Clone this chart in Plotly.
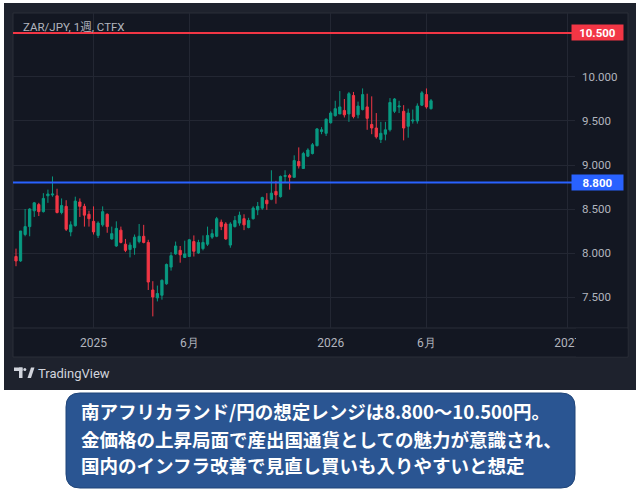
import pandas as pd
import plotly.graph_objects as go

# ---------------- data ----------------
dates = pd.date_range("2024-09-09", periods=92, freq="7D")

open_ = [7.96, 7.91, 8.21, 8.30, 8.48, 8.55, 8.47, 8.65, 8.66, 8.65,
         8.46, 8.53, 8.24, 8.31, 8.58, 8.53, 8.44, 8.36, 8.20, 8.32,
         8.44, 8.16, 8.08, 8.26, 8.10, 8.04, 8.06, 8.13, 8.19, 8.12,
         7.58, 7.49, 7.52, 7.65, 7.84, 7.99, 8.03, 7.95, 7.96, 8.13,
         8.00, 8.05, 8.10, 8.18, 8.19, 8.35, 8.33, 8.09, 8.30, 8.34,
         8.39, 8.29, 8.39, 8.49, 8.51, 8.60, 8.61, 8.70, 8.64, 8.87,
         8.88, 8.86, 9.04, 8.96, 9.10, 9.13, 9.22, 9.38, 9.36, 9.48,
         9.56, 9.58, 9.62, 9.58, 9.79, 9.57, 9.63, 9.66, 9.46, 9.42,
         9.29, 9.35, 9.40, 9.61, 9.66, 9.61, 9.44, 9.50, 9.50, 9.68,
         9.80, 9.64]
high = [8.05, 8.25, 8.50, 8.51, 8.58, 8.57, 8.68, 8.72, 8.87, 8.73,
        8.62, 8.60, 8.36, 8.64, 8.62, 8.56, 8.48, 8.53, 8.36, 8.53,
        8.45, 8.30, 8.36, 8.30, 8.16, 8.12, 8.21, 8.33, 8.32, 8.15,
        7.68, 7.63, 7.70, 7.88, 8.01, 8.13, 8.08, 8.14, 8.16, 8.20,
        8.15, 8.20, 8.30, 8.27, 8.41, 8.38, 8.35, 8.35, 8.42, 8.47,
        8.44, 8.40, 8.53, 8.58, 8.64, 8.68, 8.94, 8.82, 8.88, 8.94,
        8.90, 9.11, 9.20, 9.15, 9.19, 9.25, 9.42, 9.43, 9.53, 9.61,
        9.73, 9.84, 9.75, 9.83, 9.83, 9.72, 9.87, 9.81, 9.78, 9.59,
        9.49, 9.49, 9.76, 9.76, 9.73, 9.68, 9.64, 9.63, 9.70, 9.84,
        9.87, 9.75]
low = [7.85, 7.90, 8.19, 8.19, 8.41, 8.42, 8.46, 8.57, 8.64, 8.45,
       8.44, 8.25, 8.19, 8.30, 8.41, 8.30, 8.30, 8.21, 8.17, 8.30,
       8.23, 8.15, 8.07, 8.11, 8.01, 7.95, 7.98, 8.11, 8.11, 7.58,
       7.28, 7.45, 7.47, 7.64, 7.80, 7.98, 7.89, 7.95, 7.96, 7.96,
       7.99, 8.03, 8.08, 8.16, 8.18, 8.26, 8.15, 8.06, 8.29, 8.31,
       8.26, 8.28, 8.38, 8.43, 8.49, 8.49, 8.60, 8.56, 8.63, 8.80,
       8.72, 8.86, 8.96, 8.96, 9.09, 9.12, 9.21, 9.35, 9.33, 9.47,
       9.55, 9.58, 9.54, 9.49, 9.53, 9.53, 9.62, 9.40, 9.35, 9.30,
       9.25, 9.28, 9.38, 9.59, 9.59, 9.28, 9.31, 9.47, 9.47, 9.67,
       9.64, 9.63]
close = [7.91, 8.25, 8.30, 8.50, 8.57, 8.47, 8.62, 8.67, 8.67, 8.46,
         8.54, 8.27, 8.32, 8.59, 8.53, 8.43, 8.39, 8.24, 8.34, 8.47,
         8.30, 8.22, 8.28, 8.12, 8.03, 8.09, 8.18, 8.19, 8.12, 7.67,
         7.50, 7.54, 7.69, 7.87, 7.97, 8.08, 7.98, 7.99, 8.15, 8.02,
         8.12, 8.12, 8.20, 8.22, 8.39, 8.30, 8.16, 8.33, 8.37, 8.43,
         8.32, 8.37, 8.51, 8.53, 8.63, 8.56, 8.68, 8.66, 8.87, 8.88,
         8.86, 9.05, 8.99, 9.13, 9.17, 9.23, 9.41, 9.40, 9.52, 9.59,
         9.64, 9.66, 9.57, 9.81, 9.55, 9.67, 9.80, 9.53, 9.42, 9.32,
         9.36, 9.40, 9.71, 9.75, 9.67, 9.42, 9.59, 9.51, 9.67, 9.82,
         9.66, 9.73]

range_levels = [10.5, 8.8]
range_labels = ["10.500", "8.800"]
range_colors = ["#f23645", "#2962ff"]

price_ticks = [7.5, 8.0, 8.5, 9.0, 9.5, 10.0]
price_tick_labels = ["7.500", "8.000", "8.500", "9.000", "9.500", "10.000"]
time_tick_dates = ["2025-01-06", "2025-06-02", "2026-01-05", "2026-06-01", "2027-01-04"]
time_tick_labels = ["2025", "6月", "2026", "6月", "2027"]

title_text = "ZAR/JPY, 1週, CTFX"
brand_text = "TradingView"
caption_lines = [
    "南アフリカランド/円の想定レンジは8.800～10.500円。",
    "金価格の上昇局面で産出国通貨としての魅力が意識され、",
    "国内のインフラ改善で見直し買いも入りやすいと想定",
]

# ---------------- layout helpers ----------------
W, H = 640, 491
L, R, T, B = 13, 575, 13, 328


def px(x):
    return (x - L) / (R - L)


def py(y):
    return (B - y) / (B - T)


UP, DOWN = "#089981", "#f23645"
FRAME, PANE, GRID, BORDER = "#1e222d", "#131722", "#232733", "#2a2e39"
TXT = "#b2b5be"

fig = go.Figure()
fig.add_trace(go.Candlestick(
    x=dates, open=open_, high=high, low=low, close=close,
    increasing=dict(line=dict(color=UP, width=1), fillcolor=UP),
    decreasing=dict(line=dict(color=DOWN, width=1), fillcolor=DOWN),
    whiskerwidth=0, hoverinfo="skip", showlegend=False,
))

shapes = []
# outer dark frame
shapes.append(dict(type="rect", xref="paper", yref="paper", x0=px(4), x1=px(636),
                   y0=py(390), y1=py(3), fillcolor=FRAME, line=dict(width=0), layer="below"))
# chart pane
shapes.append(dict(type="rect", xref="paper", yref="paper", x0=px(13), x1=px(628),
                   y0=py(357), y1=py(13), fillcolor=PANE, line=dict(color=BORDER, width=1),
                   layer="below"))
# time axis separator
shapes.append(dict(type="line", xref="paper", yref="paper", x0=px(13), x1=px(628),
                   y0=py(328), y1=py(328), line=dict(color=BORDER, width=1), layer="below"))
# clip of last time label
shapes.append(dict(type="rect", xref="paper", yref="paper", x0=px(576), x1=px(627.5),
                   y0=py(356.5), y1=py(328.5), fillcolor=PANE, line=dict(width=0), layer="above"))
# range lines
for lv, col in zip(range_levels, range_colors):
    shapes.append(dict(type="line", xref="paper", yref="y", x0=0, x1=1, y0=lv, y1=lv,
                       line=dict(color=col, width=2), layer="above"))

# TradingView logo (approximation)
LOGO = "#d1d4dc"
shapes.append(dict(type="rect", xref="paper", yref="paper", x0=px(14), x1=px(22.5),
                   y0=py(371), y1=py(367.5), fillcolor=LOGO, line=dict(width=0)))
shapes.append(dict(type="rect", xref="paper", yref="paper", x0=px(19), x1=px(22.5),
                   y0=py(378), y1=py(367.5), fillcolor=LOGO, line=dict(width=0)))
shapes.append(dict(type="circle", xref="paper", yref="paper", x0=px(23.3), x1=px(26.3),
                   y0=py(371), y1=py(368), fillcolor=LOGO, line=dict(width=0)))
shapes.append(dict(type="path", xref="paper", yref="paper",
                   path=f"M{px(27.5)},{py(378)} L{px(31)},{py(367.5)} L{px(34.5)},{py(367.5)} "
                        f"L{px(31)},{py(378)} Z",
                   fillcolor=LOGO, line=dict(width=0)))

# caption rounded box
bx0, bx1, by0, by1, rr = 66, 575, 393, 488, 14
path = (f"M{px(bx0+rr)},{py(by0)} L{px(bx1-rr)},{py(by0)} Q{px(bx1)},{py(by0)} {px(bx1)},{py(by0+rr)} "
        f"L{px(bx1)},{py(by1-rr)} Q{px(bx1)},{py(by1)} {px(bx1-rr)},{py(by1)} "
        f"L{px(bx0+rr)},{py(by1)} Q{px(bx0)},{py(by1)} {px(bx0)},{py(by1-rr)} "
        f"L{px(bx0)},{py(by0+rr)} Q{px(bx0)},{py(by0)} {px(bx0+rr)},{py(by0)} Z")
shapes.append(dict(type="path", xref="paper", yref="paper", path=path,
                   fillcolor="#2a5592", line=dict(color="#1f4478", width=1)))

annotations = []
annotations.append(dict(text=title_text, xref="paper", yref="paper", x=px(21), y=py(27),
                        xanchor="left", yanchor="middle", showarrow=False,
                        font=dict(family="Roboto, Noto Sans CJK JP", size=11.5, color=TXT)))
for lv, lab, col in zip(range_levels, range_labels, range_colors):
    annotations.append(dict(text=f"<b>{lab}</b>", xref="paper", yref="y", x=px(571), y=lv,
                            xanchor="left", yanchor="middle", showarrow=False,
                            bgcolor=col, borderpad=2, width=47, height=11, align="center",
                            font=dict(family="Roboto", size=11.5, color="#ffffff")))
annotations.append(dict(text=brand_text, xref="paper", yref="paper", x=px(36), y=py(373.5),
                        xanchor="left", yanchor="middle", showarrow=False,
                        font=dict(family="Roboto", size=13, color=LOGO)))
for i, (line, yc) in enumerate(zip(caption_lines, [411, 439, 465])):
    annotations.append(dict(text=f"<b>{line}</b>", xref="paper", yref="paper", x=px(79), y=py(yc),
                            xanchor="left", yanchor="middle", showarrow=False,
                            font=dict(family="Noto Sans CJK JP", size=18.5, color="#ffffff")))

fig.update_layout(
    width=W, height=H,
    margin=dict(l=L, r=W - R, t=T, b=H - B, pad=0),
    paper_bgcolor="#ffffff", plot_bgcolor="rgba(0,0,0,0)",
    shapes=shapes, annotations=annotations, showlegend=False, hovermode=False,
    xaxis=dict(type="date", range=["2024-09-04 09:36", "2027-01-15"],
               tickvals=time_tick_dates, ticktext=time_tick_labels,
               showgrid=True, gridcolor=GRID, gridwidth=1, zeroline=False,
               showline=False, ticks="", ticklabelstandoff=6,
               rangeslider=dict(visible=False),
               tickfont=dict(family="Roboto", size=12, color=TXT)),
    yaxis=dict(range=[7.148, 10.727], side="right", tickvals=price_ticks,
               ticktext=price_tick_labels, showgrid=True, gridcolor=GRID, gridwidth=1,
               zeroline=False, showline=False, ticks="", ticklabelstandoff=6,
               tickfont=dict(family="Roboto", size=11.5, color=TXT)),
)

fig.write_html("out.html")
